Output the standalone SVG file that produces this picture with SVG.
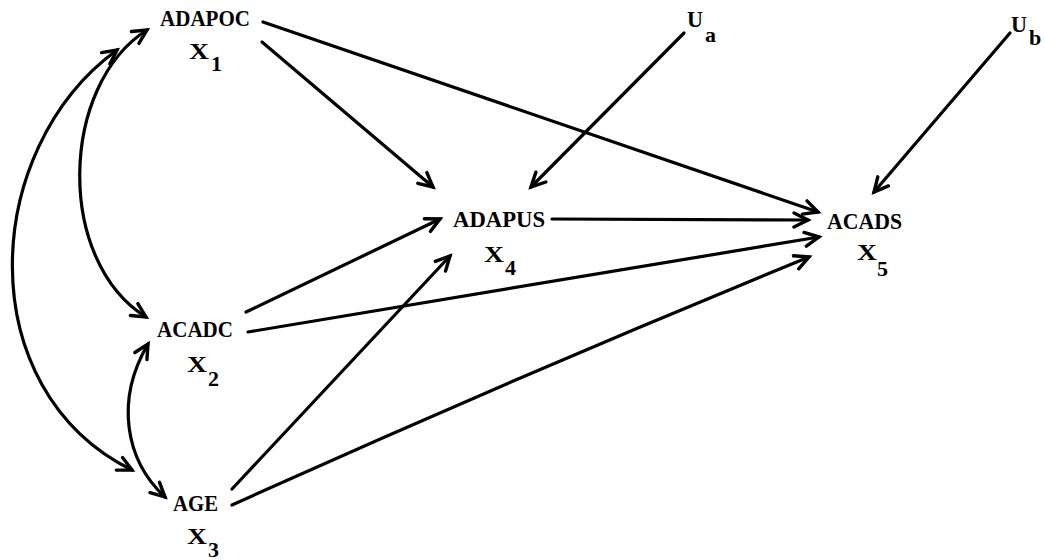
<svg xmlns="http://www.w3.org/2000/svg" width="1045" height="560" viewBox="0 0 1045 560">
<style>
.lbl{font-family:"Liberation Serif","DejaVu Serif",serif;font-weight:bold;font-size:24px;fill:#000}
.sub{font-family:"Liberation Serif","DejaVu Serif",serif;font-weight:bold;font-size:22px;fill:#000}
.c{fill:none;stroke:#000;stroke-width:3.2;stroke-linecap:round}
</style>
<defs>
<marker id="ah" markerUnits="userSpaceOnUse" markerWidth="20" markerHeight="20" viewBox="-16 -10 20 20" refX="0" refY="0" orient="auto-start-reverse">
<path d="M-14,-7 L0,0 L-14,7" fill="none" stroke="#000" stroke-width="3.4" stroke-linejoin="miter" stroke-linecap="round"/>
</marker>
</defs>
<rect width="1045" height="560" fill="#fff"/>
<g id="connectors">
<path class="c" d="M263,22 L818,212" marker-end="url(#ah)"/>
<path class="c" d="M262,42 L433,187" marker-end="url(#ah)"/>
<path class="c" d="M684,33 L531,187" marker-end="url(#ah)"/>
<path class="c" d="M1010,33 L874,192" marker-end="url(#ah)"/>
<path class="c" d="M552,219 L808,220" marker-end="url(#ah)"/>
<path class="c" d="M246,312 L440,219" marker-end="url(#ah)"/>
<path class="c" d="M248,332 Q530,286 819,237" marker-end="url(#ah)"/>
<path class="c" d="M232,489 L450,256" marker-end="url(#ah)"/>
<path class="c" d="M232,505 Q520,375 809,257" marker-end="url(#ah)"/>
<path class="c" d="M147,30 C60,85 55,260 146,317" marker-start="url(#ah)" marker-end="url(#ah)"/>
<path class="c" d="M117,50 C-20,150 -30,390 132,470" marker-start="url(#ah)" marker-end="url(#ah)"/>
<path class="c" d="M148,344 C115,400 125,460 165,497" marker-start="url(#ah)" marker-end="url(#ah)"/>
</g>
<g id="x1">
<text class="lbl" x="160" y="26" textLength="90" lengthAdjust="spacingAndGlyphs">ADAPOC</text>
<text class="lbl" x="189" y="59" textLength="20" lengthAdjust="spacingAndGlyphs">X</text><text class="sub" x="211" y="71">1</text>
</g>
<g id="x2">
<text class="lbl" x="187" y="372" textLength="20" lengthAdjust="spacingAndGlyphs">X</text><text class="sub" x="208" y="386">2</text>
<text class="lbl" x="157" y="337" textLength="76" lengthAdjust="spacingAndGlyphs">ACADC</text>
</g>
<g id="x3">
<text class="lbl" x="173" y="511" textLength="45" lengthAdjust="spacingAndGlyphs">AGE</text>
<text class="lbl" x="187" y="544" textLength="20" lengthAdjust="spacingAndGlyphs">X</text><text class="sub" x="208" y="557">3</text>
</g>
<g id="x4">
<text class="lbl" x="453" y="227" textLength="92" lengthAdjust="spacingAndGlyphs">ADAPUS</text>
<text class="lbl" x="484" y="262" textLength="20" lengthAdjust="spacingAndGlyphs">X</text><text class="sub" x="505" y="275">4</text>
</g>
<g id="x5">
<text class="lbl" x="827" y="229" textLength="75" lengthAdjust="spacingAndGlyphs">ACADS</text>
<text class="lbl" x="857" y="260" textLength="20" lengthAdjust="spacingAndGlyphs">X</text><text class="sub" x="877" y="276">5</text>
</g>
<g id="ua">
<text class="lbl" x="687" y="27" textLength="16" lengthAdjust="spacingAndGlyphs">U</text><text class="sub" x="705" y="42">a</text>
</g>
<g id="ub">
<text class="lbl" x="1011" y="32" textLength="16" lengthAdjust="spacingAndGlyphs">U</text><text class="sub" x="1029" y="45">b</text>
</g>
</svg>
